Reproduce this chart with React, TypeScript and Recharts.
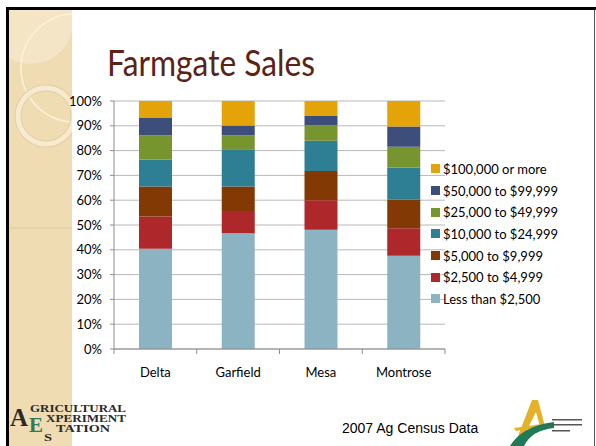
import { BarChart, Bar, XAxis, YAxis, CartesianGrid } from "recharts";

const counties = ["Delta", "Garfield", "Mesa", "Montrose"];

// share of farms by farmgate sales class, percent
const lessThan2500 = [40.4, 46.7, 48.1, 37.6];
const from2500 = [13.0, 8.9, 11.9, 11.1];
const from5000 = [12.1, 9.9, 11.8, 11.6];
const from10000 = [10.9, 15.0, 12.2, 12.9];
const from25000 = [9.8, 5.7, 6.2, 8.4];
const from50000 = [7.1, 3.9, 4.0, 8.1];
const over100000 = [6.7, 9.9, 5.8, 10.3];

const yTicks = [0, 10, 20, 30, 40, 50, 60, 70, 80, 90, 100];

const series = [
    { key: "lt2500", name: "Less than $2,500", values: lessThan2500, color: "#8cb3c2" },
    { key: "s2500", name: "$2,500 to $4,999", values: from2500, color: "#ad272b" },
    { key: "s5000", name: "$5,000 to $9,999", values: from5000, color: "#833904" },
    { key: "s10000", name: "$10,000 to $24,999", values: from10000, color: "#2e7f93" },
    { key: "s25000", name: "$25,000 to $49,999", values: from25000, color: "#77952f" },
    { key: "s50000", name: "$50,000 to $99,999", values: from50000, color: "#3d4e7b" },
    { key: "s100000", name: "$100,000 or more", values: over100000, color: "#e4a309" },
];

const data = counties.map((county, i) => {
    const row: Record<string, string | number> = { county };
    series.forEach((s) => {
        row[s.key] = s.values[i];
    });
    return row;
});

const FONT = "Lato, 'DejaVu Sans', sans-serif";

function CountyTick(props: any) {
    const { x, y, payload, index, visibleTicksCount } = props;
    const half = payload.offset ?? 0;
    const axisY = y - 18;
    return (
        <g>
            <line x1={x - half} x2={x - half} y1={axisY} y2={axisY + 5} stroke="#8c8c8c" />
            {index === visibleTicksCount - 1 && (
                <line x1={x + half} x2={x + half} y1={axisY} y2={axisY + 5} stroke="#8c8c8c" />
            )}
            <text x={x} y={y} dy={9.5} textAnchor="middle" fontSize={13} fill="#000" fontFamily={FONT}>
                {payload.value}
            </text>
        </g>
    );
}

function SlideDecor() {
    return (
        <svg width={63} height={436} style={{ position: "absolute", left: 9, top: 10 }}>
            <rect width={63} height={436} fill="#efdcb2" />
            <circle cx={22} cy={12} r={42} fill="#f3e5c5" />
            <circle cx={66} cy={58} r={54} fill="none" stroke="#fbf2dc" strokeWidth={1.5} />
            <circle cx={37} cy={106} r={28} fill="none" stroke="#e4cfa0" strokeWidth={7} />
            <circle cx={37} cy={106} r={28} fill="none" stroke="#f6ead0" strokeWidth={5} />
            <line x1={0} y1={218} x2={63} y2={218} stroke="#dcc796" strokeWidth={0.8} />
        </svg>
    );
}

function StationLogo() {
    return (
        <svg width={120} height={42} style={{ position: "absolute", left: 10, top: 402 }}>
            <g fontFamily="'Liberation Serif', serif" fontWeight="bold" fill="#2a2a2a">
                <text x={0} y={24} fontSize={26} textLength={18} lengthAdjust="spacingAndGlyphs">A</text>
                <text x={20} y={10} fontSize={11} textLength={96} lengthAdjust="spacingAndGlyphs">GRICULTURAL</text>
                <text x={19} y={30} fontSize={22} fill="#2f7a5a" textLength={14} lengthAdjust="spacingAndGlyphs">E</text>
                <text x={36} y={20} fontSize={10} textLength={80} lengthAdjust="spacingAndGlyphs">XPERIMENT</text>
                <text x={46} y={30} fontSize={10} textLength={54} lengthAdjust="spacingAndGlyphs">TATION</text>
                <text x={34} y={39} fontSize={11} textLength={8} lengthAdjust="spacingAndGlyphs">S</text>
            </g>
        </svg>
    );
}

function ServiceLogo() {
    return (
        <svg width={80} height={50} style={{ position: "absolute", left: 508, top: 396 }}>
            <path d="M24 4 L30 4 L38 34 L33 34 L28 16 L16 40 L10 40 Z" fill="#e3b22a" />
            <path d="M6 32 L34 28 L34 31 L8 35 Z" fill="#e3b22a" />
            <path d="M2 50 Q14 30 46 26 L46 32 Q24 34 16 50 Z" fill="#1f7a55" />
            <g fill="#555">
                <rect x={44} y={23} width={30} height={1.5} />
                <rect x={44} y={28} width={30} height={1.5} />
                <rect x={44} y={34} width={18} height={1.5} />
            </g>
        </svg>
    );
}

export default function App() {
    return (
        <div
            style={{
                position: "absolute",
                left: 0,
                top: 0,
                width: 596,
                height: 446,
                overflow: "hidden",
                background: "#fff",
                fontFamily: FONT,
            }}
        >
            <SlideDecor />
            <div style={{ position: "absolute", left: 6, top: 7, width: 590, height: 3, background: "#000" }} />
            <div style={{ position: "absolute", left: 6, top: 7, width: 3, height: 439, background: "#000" }} />
            <div style={{ position: "absolute", left: 594, top: 10, width: 1, height: 436, background: "#555" }} />

            <svg width={260} height={50} style={{ position: "absolute", left: 100, top: 40 }}>
                <text x={7} y={36} fontSize={36} fill="#5b2217" fontFamily={FONT} textLength={208} lengthAdjust="spacingAndGlyphs">
                    Farmgate Sales
                </text>
            </svg>

            <div style={{ position: "absolute", left: 0, top: 0 }}>
                <BarChart
                    width={596}
                    height={446}
                    data={data}
                    margin={{ top: 101, right: 151, bottom: 67, left: 0 }}
                    barSize={33}
                >
                    <CartesianGrid vertical={false} stroke="#b8b8b8" />
                    <XAxis
                        dataKey="county"
                        height={30}
                        tickLine={false}
                        tickSize={4}
                        tickMargin={14}
                        axisLine={{ stroke: "#8c8c8c" }}
                        tick={<CountyTick />}
                        interval={0}
                    />
                    <YAxis
                        width={114}
                        domain={[0, 100]}
                        ticks={yTicks}
                        tickFormatter={(v: number) => `${v}%`}
                        tick={{ fontSize: 13, fill: "#000", fontFamily: FONT }}
                        tickSize={4}
                        tickMargin={8}
                        tickLine={{ stroke: "#8c8c8c" }}
                        axisLine={{ stroke: "#8c8c8c" }}
                        allowDataOverflow
                    />
                    {series.map((s) => (
                        <Bar
                            key={s.key}
                            dataKey={s.key}
                            name={s.name}
                            stackId="sales"
                            fill={s.color}
                            isAnimationActive={false}
                        />
                    ))}
                </BarChart>
            </div>

            <div style={{ position: "absolute", left: 431, top: 158 }}>
                {series
                    .slice()
                    .reverse()
                    .map((s) => (
                        <div key={s.key} style={{ display: "flex", alignItems: "center", height: 21.7, fontSize: 13, color: "#000" }}>
                            <span style={{ width: 9, height: 9, background: s.color, marginRight: 3, flexShrink: 0 }} />
                            <span style={{ whiteSpace: "nowrap" }}>{s.name}</span>
                        </div>
                    ))}
            </div>

            <div
                style={{
                    position: "absolute",
                    left: 342,
                    top: 420,
                    fontFamily: "'Liberation Sans', Arial, sans-serif",
                    fontSize: 14,
                    color: "#000",
                    whiteSpace: "nowrap",
                }}
            >
                2007 Ag Census Data
            </div>

            <StationLogo />
            <ServiceLogo />
        </div>
    );
}
